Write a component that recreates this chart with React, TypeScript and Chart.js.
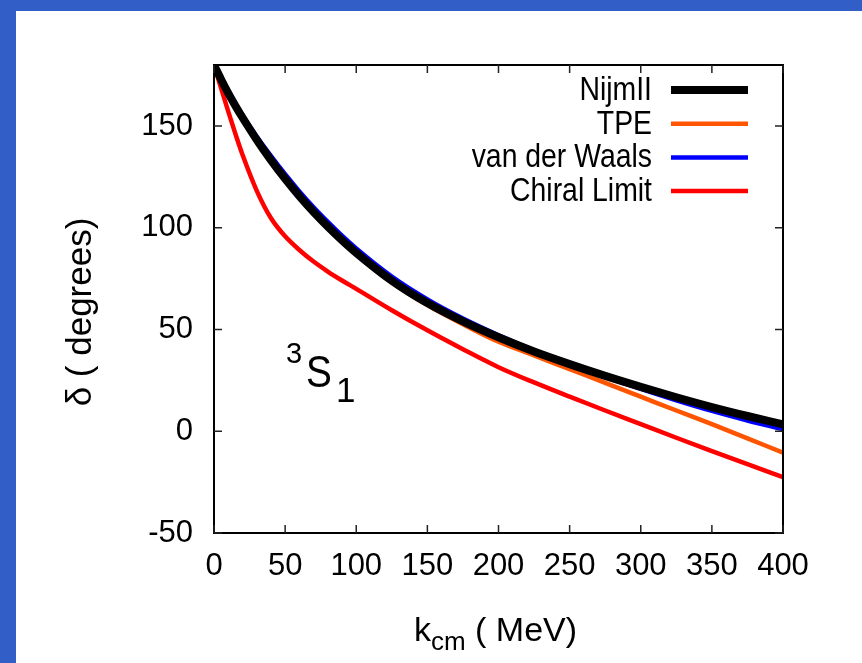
import React, { useEffect, useRef } from 'react';
import { Chart, registerables } from 'chart.js';

Chart.register(...registerables);

const K_CM = [0, 5, 10, 15, 20, 30, 40, 50, 60, 70, 80, 90, 100, 125, 150, 175, 200, 225, 250, 275, 300, 325, 350, 375, 400];
const NIJM2 = [180, 172.9, 166.2, 160, 154.2, 143.3, 133.3, 124.1, 115.6, 107.8, 100.6, 93.9, 87.7, 74, 63, 54, 46.2, 39.2, 33, 27.2, 21.8, 16.7, 11.9, 7.5, 3.4];
const TPE = [180, 172.8, 166, 159.7, 153.8, 142.8, 132.7, 123.5, 115, 107.2, 100, 93.2, 87, 73.2, 62, 52.6, 44, 37.3, 30.5, 23.8, 17, 10.2, 3.5, -3.5, -10.5];
const VDW = [180, 173.1, 166.7, 160.8, 155.3, 144.9, 135.3, 126.3, 117.9, 110.1, 102.9, 96.1, 89.8, 76, 64.8, 55.4, 47.2, 39.8, 33.1, 26.8, 20.8, 15.2, 10, 5.3, 1];
const CHIRAL = [180, 168.5, 157.2, 146.3, 136, 118.3, 104.8, 95.8, 89.1, 83.4, 78.5, 74.1, 70, 59.5, 49.6, 40.3, 31.5, 24, 17, 10.2, 3.5, -3.2, -9.8, -16.2, -22.5];

const SERIES_LABELS = ['NijmII', 'TPE', 'van der Waals', 'Chiral Limit'];
const SERIES_COLORS = ['#000000', '#ff5500', '#0000ff', '#ff0000'];
const SERIES_WIDTHS = [8, 4.5, 4.5, 4.5];
const X_TICKS = [0, 50, 100, 150, 200, 250, 300, 350, 400];
const Y_TICKS = [-50, 0, 50, 100, 150];

const SANS = "'Liberation Sans', Arial, sans-serif";

const framePlugin = {
  id: 'frame',
  afterDatasetsDraw(chart: any) {
    const { ctx, chartArea: a, scales } = chart;
    ctx.save();
    ctx.strokeStyle = '#000';
    ctx.lineWidth = 2;
    ctx.strokeRect(a.left, a.top, a.right - a.left, a.bottom - a.top);
    ctx.lineWidth = 1.5;
    ctx.strokeStyle = '#222';
    const tl = 8;
    X_TICKS.forEach((v) => {
      const x = scales.x.getPixelForValue(v);
      ctx.beginPath();
      ctx.moveTo(x, a.bottom);
      ctx.lineTo(x, a.bottom - tl);
      ctx.moveTo(x, a.top);
      ctx.lineTo(x, a.top + tl);
      ctx.stroke();
    });
    Y_TICKS.forEach((v) => {
      const y = scales.y.getPixelForValue(v);
      ctx.beginPath();
      ctx.moveTo(a.left, y);
      ctx.lineTo(a.left + tl, y);
      ctx.moveTo(a.right, y);
      ctx.lineTo(a.right - tl, y);
      ctx.stroke();
    });
    ctx.restore();
  },
};

const SQUEEZE = 0.86;

const textPlugin = {
  id: 'texts',
  afterDraw(chart: any) {
    const { ctx, chartArea: a } = chart;
    ctx.save();
    ctx.fillStyle = '#000';
    // legend (gnuplot style: text, then sample line)
    const rowY0 = a.top + 25;
    const rowH = 33.7;
    chart.data.datasets.forEach((ds: any, i: number) => {
      const y = rowY0 + i * rowH;
      ctx.save();
      ctx.translate(636, y + 1);
      ctx.scale(SQUEEZE, 1);
      ctx.textAlign = 'right';
      ctx.textBaseline = 'middle';
      ctx.font = `33px ${SANS}`;
      ctx.fillStyle = '#000';
      ctx.fillText(ds.label, 0, 0);
      ctx.restore();
      ctx.strokeStyle = ds.borderColor;
      ctx.lineWidth = ds.borderWidth;
      ctx.beginPath();
      ctx.moveTo(655, y);
      ctx.lineTo(732, y);
      ctx.stroke();
    });

    // y title
    ctx.save();
    ctx.translate(65, 301);
    ctx.rotate(-Math.PI / 2);
    ctx.textAlign = 'center';
    ctx.textBaseline = 'middle';
    ctx.font = `35px ${SANS}`;
    ctx.fillText('δ ( degrees)', 0, 0);
    ctx.restore();

    // x title with subscript
    ctx.textAlign = 'left';
    ctx.textBaseline = 'alphabetic';
    const mainFont = `34px ${SANS}`;
    const subFont = `26px ${SANS}`;
    ctx.font = mainFont;
    const wK = ctx.measureText('k').width;
    const wRest = ctx.measureText(' ( MeV)').width;
    ctx.font = subFont;
    const wSub = ctx.measureText('cm').width;
    const total = wK + wSub + wRest;
    let x = 479.5 - total / 2;
    const base = 630;
    ctx.font = mainFont;
    ctx.fillText('k', x, base);
    x += wK;
    ctx.font = subFont;
    ctx.fillText('cm', x, base + 9);
    x += wSub;
    ctx.font = mainFont;
    ctx.fillText(' ( MeV)', x, base);

    // 3S1 annotation
    ctx.font = `29px ${SANS}`;
    ctx.fillText('3', 270, 352);
    ctx.save();
    ctx.translate(290, 376);
    ctx.scale(SQUEEZE, 1);
    ctx.font = `45px ${SANS}`;
    ctx.fillText('S', 0, 0);
    ctx.restore();
    ctx.font = `35px ${SANS}`;
    ctx.fillText('1', 320, 391);
    ctx.restore();
  },
};

export default function App() {
  const ref = useRef<HTMLCanvasElement>(null);
  useEffect(() => {
    if (!ref.current) return;
    const series = [NIJM2, TPE, VDW, CHIRAL];
    const chart = new Chart(ref.current, {
      type: 'line',
      data: {
        datasets: series.map((vals, i) => ({
          label: SERIES_LABELS[i],
          data: K_CM.map((k, j) => ({ x: k, y: vals[j] })),
          borderColor: SERIES_COLORS[i],
          backgroundColor: SERIES_COLORS[i],
          borderWidth: SERIES_WIDTHS[i],
          pointRadius: 0,
          cubicInterpolationMode: 'monotone' as const,
          fill: false,
        })),
      },
      options: {
        animation: false,
        responsive: false,
        maintainAspectRatio: false,
        layout: { padding: { left: 0, top: 54, right: 79, bottom: 0 } },
        plugins: { legend: { display: false }, tooltip: { enabled: false } },
        scales: {
          x: {
            type: 'linear',
            min: 0,
            max: 400,
            afterFit: (s: any) => { s.height = 130; },
            afterBuildTicks: (s: any) => { s.ticks = X_TICKS.map((v) => ({ value: v })); },
            ticks: {
              stepSize: 50,
              maxRotation: 0,
              autoSkip: false,
              padding: 15,
              color: '#000',
              font: { family: SANS, size: 31 },
            },
            grid: { display: false, drawTicks: false },
            border: { display: false },
          },
          y: {
            type: 'linear',
            min: -50,
            max: 180,
            afterFit: (s: any) => { s.width = 198; },
            afterBuildTicks: (s: any) => { s.ticks = Y_TICKS.map((v) => ({ value: v })); },
            ticks: {
              stepSize: 50,
              autoSkip: false,
              padding: 21,
              color: '#000',
              font: { family: SANS, size: 31 },
            },
            grid: { display: false, drawTicks: false },
            border: { display: false },
          },
        },
      },
      plugins: [framePlugin, textPlugin],
    });
    return () => chart.destroy();
  }, []);
  return (
    <div style={{ position: 'fixed', left: 0, top: 0, width: 862, height: 663, background: '#325ec8' }}>
      <canvas
        ref={ref}
        width={846}
        height={652}
        style={{ position: 'absolute', left: 16, top: 11, width: 846, height: 652, background: '#fff' }}
      />
    </div>
  );
}
